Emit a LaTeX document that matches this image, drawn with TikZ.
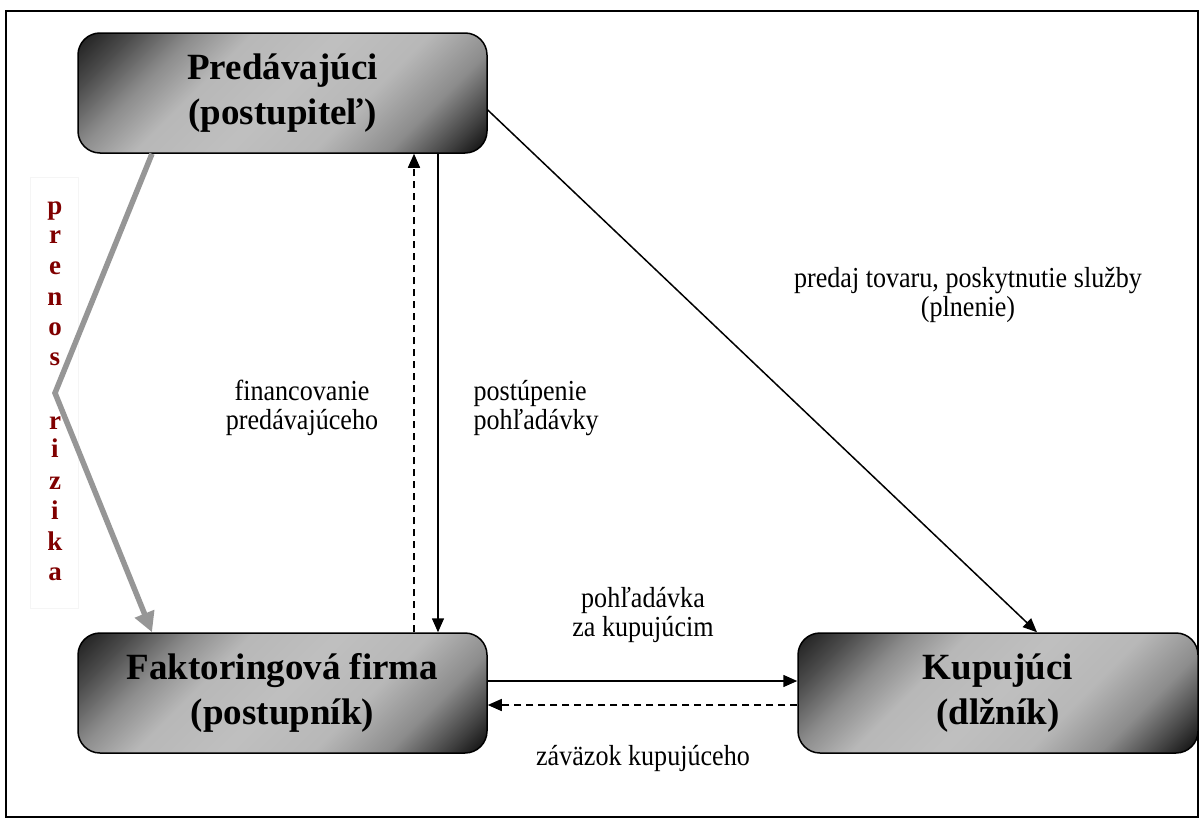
\documentclass[tikz,border=0pt]{standalone}
\usepackage{fontspec}
\setmainfont{Liberation Serif}
\newfontfamily\labelserif[FakeStretch=0.9]{Liberation Serif}
\usetikzlibrary{arrows.meta,calc}
\pgfdeclarehorizontalshading{boxshade}{100bp}{%
  rgb(0bp)=(0.08,0.08,0.08);
  rgb(15bp)=(0.12,0.12,0.12);
  rgb(22bp)=(0.30,0.30,0.30);
  rgb(30bp)=(0.55,0.55,0.55);
  rgb(38bp)=(0.72,0.72,0.72);
  rgb(50bp)=(0.75,0.75,0.75);
  rgb(62bp)=(0.72,0.72,0.72);
  rgb(72bp)=(0.55,0.55,0.55);
  rgb(80bp)=(0.25,0.25,0.25);
  rgb(85bp)=(0.05,0.05,0.05);
  rgb(100bp)=(0.05,0.05,0.05)}
\definecolor{riskred}{RGB}{128,0,0}
\definecolor{riskgray}{RGB}{150,150,150}
\tikzset{
  party/.style={draw=black, line width=1.5pt, rounded corners=22pt,
    shading=boxshade, shading angle=-45,
    minimum width=409pt, minimum height=120pt, align=center,
    font=\fontsize{37}{45}\selectfont\bfseries},
  flowlabel/.style={font=\labelserif\fontsize{29}{29}\selectfont},
  solidarrow/.style={line width=1.5pt, -{Triangle[length=14pt,width=12pt]}},
  dasharrow/.style={line width=1.5pt, dash pattern=on 7pt off 5pt,
    -{Triangle[length=14pt,width=12pt]}},
  riskarrow/.style={line width=5.5pt, riskgray, line join=miter,
    -{Triangle[length=20pt,width=20pt]}},
  riskletter/.style={text=riskred, font=\fontsize{27}{27}\selectfont\bfseries,
    anchor=base, inner sep=0pt}
}
\begin{document}
\begin{tikzpicture}[x=1pt,y=-1pt]
  \useasboundingbox (0,0) rectangle (1199,822);
  % outer frame
  \draw[line width=1.5pt] (6,11) rectangle (1198,817);

  % parties
  \node[party] (pred) at (282.5,93) {Predávajúci\\(postupiteľ)};
  \node[party] (fact) at (282.5,693) {Faktoringová firma\\(postupník)};
  \node[party, minimum width=400pt] (kup) at (998,693) {Kupujúci\\(dlžník)};

  % transfer of risk
  \draw[draw=black!4, line width=0.6pt] (30,177) rectangle (78,608);
  \coordinate (bend) at (55,393);
  \draw[riskarrow] (152,0 |- pred.south) -- (bend) -- (152,0 |- fact.north);
  \foreach \ch/\yy [count=\i] in {p/214,r/243,e/274,n/305,o/335,s/365,r/429,i/457,z/489,i/519,k/550,a/580}
    \node[riskletter] (risk\i) at (55,\yy) {\ch};

  % flows between seller and factor
  \draw[dasharrow] (414,0 |- fact.north) -- (414,0 |- pred.south);
  \draw[solidarrow] (438,0 |- pred.south) -- (438,0 |- fact.north);
  \node[flowlabel, align=center] (fin) at (302,408) {financovanie\\predávajúceho};
  \node[flowlabel, align=left, anchor=west] (post) at (470,408) {postúpenie\\pohľadávky};

  % seller to buyer
  \draw[solidarrow] (pred.east |- 0,110) -- (1037,0 |- kup.north);
  \node[flowlabel, align=center] (deliv) at (968,295) {\fontsize{29}{32}\selectfont predaj tovaru, poskytnutie služby\\(plnenie)};

  % factor and buyer
  \draw[solidarrow] (fact.east |- 0,681) -- (kup.west |- 0,681);
  \draw[dasharrow] (kup.west |- 0,705) -- (fact.east |- 0,705);
  \node[flowlabel, align=center] (claim) at (643,615) {\fontsize{29}{35}\selectfont pohľadávka\\za kupujúcim};
  \node[flowlabel] (debt) at (643,758) {záväzok kupujúceho};
\end{tikzpicture}
\end{document}
